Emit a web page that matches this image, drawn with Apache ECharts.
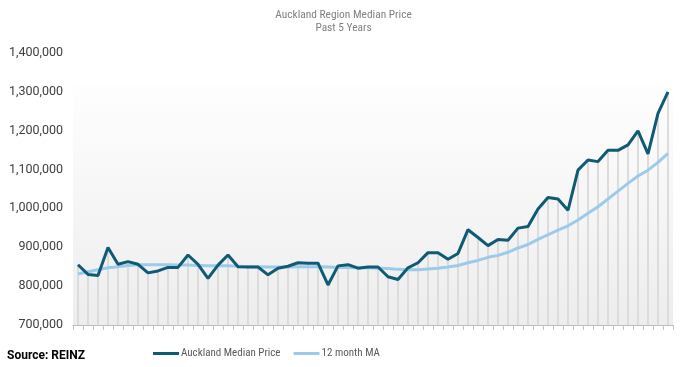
<!DOCTYPE html>
<html><head><meta charset="utf-8">
<script src="https://cdn.jsdelivr.net/npm/echarts@6/dist/echarts.min.js"></script>
<style>html,body{margin:0;padding:0;background:#fff}#c{width:687px;height:367px}</style>
</head><body><div id="c"></div>
<script>
var months = ["Dec-16","Jan-17","Feb-17","Mar-17","Apr-17","May-17","Jun-17","Jul-17","Aug-17","Sep-17","Oct-17","Nov-17",
"Dec-17","Jan-18","Feb-18","Mar-18","Apr-18","May-18","Jun-18","Jul-18","Aug-18","Sep-18","Oct-18","Nov-18",
"Dec-18","Jan-19","Feb-19","Mar-19","Apr-19","May-19","Jun-19","Jul-19","Aug-19","Sep-19","Oct-19","Nov-19",
"Dec-19","Jan-20","Feb-20","Mar-20","Apr-20","May-20","Jun-20","Jul-20","Aug-20","Sep-20","Oct-20","Nov-20",
"Dec-20","Jan-21","Feb-21","Mar-21","Apr-21","May-21","Jun-21","Jul-21","Aug-21","Sep-21","Oct-21","Nov-21"];
var medianPrice = [855000,830000,827000,899000,856000,863000,856000,834000,839000,848000,848000,880000,
856000,820000,854000,880000,850000,849000,849000,829000,846000,851000,860000,859000,
859000,803000,852000,855000,846000,849000,849000,824000,817000,847000,860000,886000,
886000,869000,884000,945000,925000,904000,920000,918000,949000,953000,998000,1028000,
1024000,995000,1098000,1124000,1120000,1149000,1149000,1163000,1199000,1140000,1244000,1299000];
var movingAvg = [831000,837000,842000,847000,850000,853000,855000,855000,855000,855000,854000,854000,
853000,852000,852000,852000,851000,850000,850000,849000,849000,849000,850000,850000,
850000,849000,848000,848000,847000,847000,846000,845000,843000,842000,842000,844000,
846000,849000,853000,860000,866000,874000,879000,887000,898000,907000,920000,932000,
944000,955000,970000,987000,1004000,1024000,1044000,1064000,1083000,1098000,1118000,1141000];
var yTicks = {min:700000, max:1400000, step:100000};

var chart = echarts.init(document.getElementById('c'), null, {renderer:'canvas'});
var font = '"Liberation Sans Narrow", "Roboto Condensed", Roboto, sans-serif';
chart.setOption({
  animation:false,
  backgroundColor:'#ffffff',
  title:{text:'Auckland Region Median Price\nPast 5 Years', left:'center', top:4,
    textStyle:{fontSize:11.4, fontWeight:'normal', color:'#808080', fontFamily:font, lineHeight:13}},
  graphic:[
    {type:'rect', z:-10, silent:true, shape:{x:73,y:85,width:600,height:240},
     style:{fill:new echarts.graphic.LinearGradient(0,0,0,1,[{offset:0,color:'#fefefe'},{offset:1,color:'#ededed'}])}},
    {type:'text', left:7, top:350, style:{text:'Source: REINZ', fill:'#000', font:'bold 12px Roboto, sans-serif'}}
  ],
  legend:{data:['Auckland Median Price','12 month MA'], bottom:3, left:148, itemWidth:26, itemHeight:3, itemGap:13,
    icon:'rect', textStyle:{fontSize:11, color:'#595959', fontFamily:font, padding:[0,0,0,-3]}},
  grid:{left:73, right:14, top:52.7, bottom:42, containLabel:false},
  xAxis:{type:'category', data:months, boundaryGap:true,
    axisLine:{lineStyle:{color:'#bfbfbf', width:1}},
    axisTick:{show:true, interval:0, length:5, lineStyle:{color:'#bfbfbf'}},
    axisLabel:{show:false}, splitLine:{show:false}},
  yAxis:{type:'value', min:yTicks.min, max:yTicks.max, interval:yTicks.step,
    axisLine:{show:false}, axisTick:{show:false}, splitLine:{show:false},
    axisLabel:{color:'#404040', fontSize:12.5, fontFamily:'Roboto, sans-serif', margin:10,
      formatter:function(v){return v.toLocaleString('en-US');}}},
  series:[
    {name:'drop', type:'bar', data:medianPrice, barWidth:2, clip:true, silent:true,
     itemStyle:{color:'#dcdcdc'}, z:1},
    {name:'Auckland Median Price', type:'line', data:medianPrice, symbol:'none',
     lineStyle:{color:'#0f5a75', width:3}, itemStyle:{color:'#0f5a75'}, z:4},
    {name:'12 month MA', type:'line', data:movingAvg, symbol:'none',
     lineStyle:{color:'#9ccbea', width:3}, itemStyle:{color:'#9ccbea'}, z:3}
  ]
});
</script></body></html>
